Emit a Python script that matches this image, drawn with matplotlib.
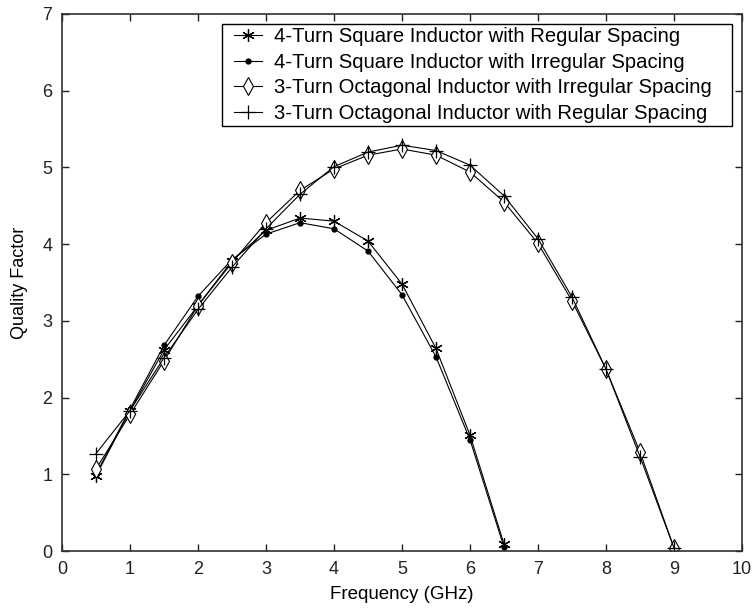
import matplotlib
matplotlib.use("Agg")
import matplotlib.pyplot as plt
from matplotlib.legend_handler import HandlerLine2D

plt.rcParams['font.family'] = ['Liberation Sans', 'DejaVu Sans']

# Frequency points (GHz)
freq_square = [0.5, 1.0, 1.5, 2.0, 2.5, 3.0, 3.5, 4.0, 4.5, 5.0, 5.5, 6.0, 6.5]
freq_octagon = [0.5, 1.0, 1.5, 2.0, 2.5, 3.0, 3.5, 4.0, 4.5, 5.0, 5.5, 6.0,
                6.5, 7.0, 7.5, 8.0, 8.5, 9.0]

# Quality factor for each inductor
q_square_regular = [0.98, 1.83, 2.62, 3.20, 3.78, 4.18, 4.34, 4.30, 4.04, 3.48, 2.64, 1.51, 0.09]
q_square_irregular = [1.00, 1.85, 2.68, 3.32, 3.80, 4.13, 4.28, 4.20, 3.91, 3.34, 2.53, 1.45, 0.05]
q_octagon_irregular = [1.07, 1.78, 2.48, 3.20, 3.76, 4.28, 4.70, 4.98, 5.16, 5.24, 5.16, 4.94,
                       4.55, 4.01, 3.26, 2.37, 1.29, 0.04]
q_octagon_regular = [1.27, 1.83, 2.52, 3.15, 3.70, 4.20, 4.65, 5.01, 5.20, 5.29, 5.22, 5.03,
                     4.63, 4.07, 3.31, 2.37, 1.23, 0.04]

labels = ["4-Turn Square Inductor with Regular Spacing",
          "4-Turn Square Inductor with Irregular Spacing",
          "3-Turn Octagonal Inductor with Irregular Spacing",
          "3-Turn Octagonal Inductor with Regular Spacing"]

x_ticks = list(range(0, 11))
y_ticks = list(range(0, 8))


class InsetLine(HandlerLine2D):
    """Legend handle whose line sample starts a little inside the handle box."""

    def __init__(self, lead=0.45, **kw):
        super().__init__(**kw)
        self.lead = lead

    def create_artists(self, legend, orig_handle, xdescent, ydescent, width,
                       height, fontsize, trans):
        shift = self.lead * fontsize
        return super().create_artists(legend, orig_handle, xdescent - shift,
                                      ydescent, width - shift, height,
                                      fontsize, trans)


fig = plt.figure(figsize=(7.54, 6.12), dpi=100)
ax = fig.add_axes([62 / 754, 61 / 612, 680 / 754, 537 / 612])

lw = 0.8
l1, = ax.plot(freq_square, q_square_regular, color='k', lw=lw, marker=(6, 2, 0),
              ms=9, mew=0.9, label=labels[0])
l2, = ax.plot(freq_square, q_square_irregular, color='k', lw=lw, marker='o',
              ms=3.5, mfc='k', mec='k', label=labels[1])
l3, = ax.plot(freq_octagon, q_octagon_irregular, color='k', lw=lw, marker='d',
              ms=9, mfc='white', mec='k', mew=0.8, label=labels[2])
l4, = ax.plot(freq_octagon, q_octagon_regular, color='k', lw=lw, marker='+',
              ms=10, mew=0.9, label=labels[3])

ax.set_xlim(0, 10)
ax.set_ylim(0, 7)
ax.set_xticks(x_ticks)
ax.set_yticks(y_ticks)
ax.tick_params(direction='in', length=5, width=1, top=True, right=True,
               labelsize=13, colors='#222222', pad=7)
for side in ax.spines.values():
    side.set_linewidth(1.2)
    side.set_color('#303030')

ax.set_xlabel("Frequency (GHz)", fontsize=13.5, labelpad=6)
ax.set_ylabel("Quality Factor", fontsize=13, labelpad=10)

handler = InsetLine(lead=0.45)
leg = ax.legend(handles=[l1, l2, l3, l4],
                handler_map={l1: handler, l2: handler, l3: handler, l4: handler},
                loc='upper left', bbox_to_anchor=(0.2353, 0.5, 0.75, 0.4814),
                mode='expand', fontsize=14.6,
                frameon=True, fancybox=False, edgecolor='k', framealpha=1,
                handlelength=1.83, handletextpad=0.59, borderpad=0.15,
                labelspacing=0.33, borderaxespad=0.0)
leg.get_frame().set_linewidth(1.0)

fig.savefig("out.png", dpi=100, facecolor='white')
